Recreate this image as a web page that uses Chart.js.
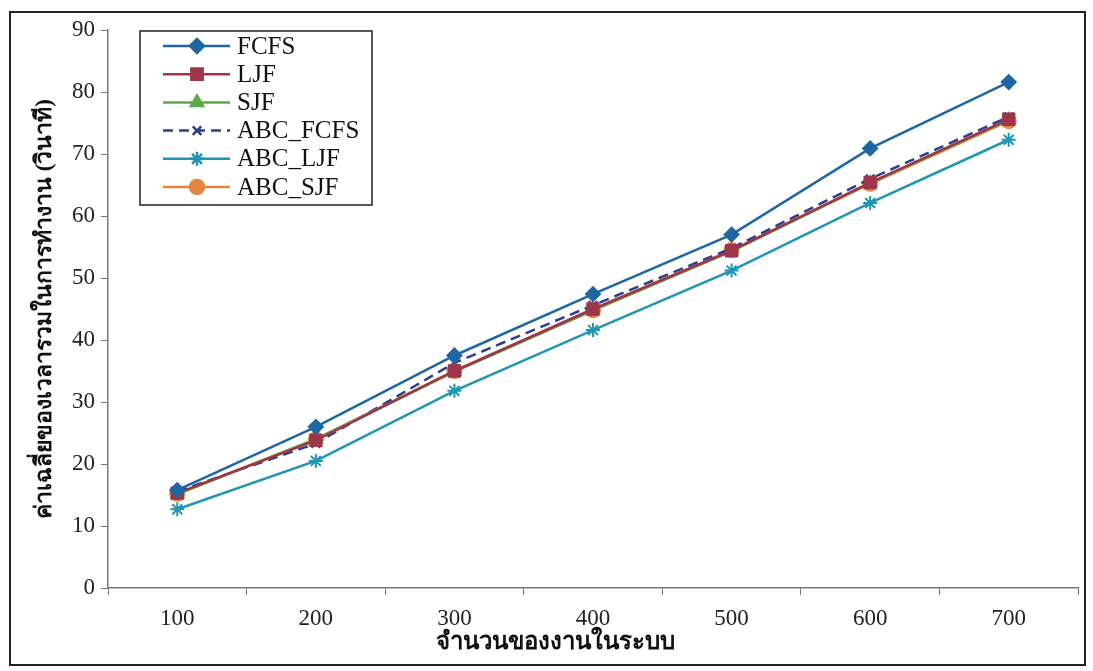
<!DOCTYPE html>
<html>
<head>
<meta charset="utf-8">
<script src="https://cdn.jsdelivr.net/npm/chart.js@4.4.0/dist/chart.umd.min.js"></script>
<style>
  body { margin: 0; background: #fff; }
  #wrap { width: 1093px; height: 671px; }
</style>
</head>
<body>
<div id="wrap"><canvas id="jobs" width="1093" height="671"></canvas></div>
<script>
var jobCounts = ['100', '200', '300', '400', '500', '600', '700'];

var fcfs    = [15.8, 26.0, 37.5, 47.4, 57.0, 70.9, 81.6];
var ljf     = [15.3, 23.8, 35.0, 45.0, 54.4, 65.4, 75.6];
var sjf     = [15.1, 24.0, 34.9, 44.8, 54.3, 65.3, 75.5];
var abcFcfs = [15.6, 23.3, 36.3, 45.6, 54.8, 66.0, 76.0];
var abcLjf  = [12.7, 20.5, 31.8, 41.6, 51.2, 62.1, 72.3];
var abcSjf  = [15.2, 24.0, 35.0, 44.8, 54.5, 65.2, 75.3];

var xTitle = 'จำนวนของงานในระบบ';
var yTitle = 'ค่าเฉลี่ยของเวลารวมในการทำงาน (วินาที)';

var serif = '"Liberation Serif", "Times New Roman", serif';

// frame round the whole figure + x title (sits left of the plot centre in the original)
var framePlugin = {
  id: 'frame',
  beforeDraw: function(chart) {
    var ctx = chart.ctx;
    ctx.save();
    ctx.fillStyle = '#fff';
    ctx.fillRect(0, 0, chart.width, chart.height);
    ctx.strokeStyle = '#222';
    ctx.lineWidth = 2;
    ctx.strokeRect(10, 12, 1075, 653);
    ctx.restore();
  },
  afterDraw: function(chart) {
    var ctx = chart.ctx;
    ctx.save();
    ctx.fillStyle = '#111';
    ctx.font = 'bold 24px ' + serif;
    ctx.textAlign = 'center';
    ctx.textBaseline = 'middle';
    ctx.fillText(xTitle, chart.width / 2 + 9, 643);
    ctx.restore();
  }
};

// legend box drawn inside the plot, top left
var boxLegend = {
  id: 'boxLegend',
  afterDraw: function(chart) {
    var ctx = chart.ctx;
    var area = chart.chartArea;
    var x0 = area.left + 32, y0 = area.top + 1;
    var w = 232, h = 174, rowH = 28.2;
    ctx.save();
    ctx.fillStyle = '#fff';
    ctx.fillRect(x0, y0, w, h);
    ctx.strokeStyle = '#222';
    ctx.lineWidth = 1.5;
    ctx.strokeRect(x0, y0, w, h);
    chart.data.datasets.forEach(function(ds, i) {
      var cy = y0 + 15 + i * rowH;
      ctx.strokeStyle = ds.borderColor;
      ctx.lineWidth = 2.5;
      ctx.setLineDash(ds.borderDash || []);
      ctx.beginPath();
      ctx.moveTo(x0 + 23, cy);
      ctx.lineTo(x0 + 90, cy);
      ctx.stroke();
      ctx.setLineDash([]);
      ctx.fillStyle = ds.pointBackgroundColor;
      ctx.strokeStyle = ds.pointBorderColor;
      Chart.helpers.drawPoint(ctx, {
        pointStyle: ds.pointStyle,
        radius: ds.pointRadius,
        rotation: 0,
        borderWidth: 2
      }, x0 + 57, cy);
      ctx.fillStyle = '#111';
      ctx.font = '25px ' + serif;
      ctx.textBaseline = 'middle';
      ctx.fillText(ds.label, x0 + 97, cy + 1);
    });
    ctx.restore();
  }
};

function series(label, data, color, style, radius, extra) {
  var ds = {
    label: label,
    data: data,
    borderColor: color,
    backgroundColor: color,
    pointBackgroundColor: color,
    pointBorderColor: color,
    pointStyle: style,
    pointRadius: radius,
    pointBorderWidth: 2,
    borderWidth: 2.5,
    tension: 0
  };
  for (var k in extra) ds[k] = extra[k];
  return ds;
}

var datasets = [
  series('FCFS', fcfs, '#1f67a3', 'rectRot', 7),
  series('LJF', ljf, '#9c3648', 'rect', 8),
  series('SJF', sjf, '#5ea84c', 'triangle', 7),
  series('ABC_FCFS', abcFcfs, '#2e3e8c', 'crossRot', 6, { borderDash: [10, 6] }),
  series('ABC_LJF', abcLjf, '#2196b3', 'star', 7),
  series('ABC_SJF', abcSjf, '#e3853c', 'circle', 7)
];

var ctx = document.getElementById('jobs').getContext('2d');
new Chart(ctx, {
  type: 'line',
  data: { labels: jobCounts, datasets: datasets },
  plugins: [framePlugin, boxLegend],
  options: {
    responsive: false,
    animation: false,
    layout: { padding: { left: 10, right: 15, top: 30, bottom: 0 } },
    plugins: {
      legend: { display: false },
      tooltip: { enabled: false }
    },
    scales: {
      x: {
        offset: true,
        grid: {
          offset: true,
          drawOnChartArea: false,
          tickLength: 7,
          color: '#777'
        },
        border: { color: '#777', width: 1.5 },
        ticks: { color: '#222', padding: 10, font: { family: serif, size: 23 } },
        afterFit: function(scale) { scale.height = 83; }
      },
      y: {
        min: 0,
        max: 90,
        ticks: { stepSize: 10, color: '#222', padding: 6, font: { family: serif, size: 23 } },
        grid: { drawOnChartArea: false, tickLength: 7, color: '#777' },
        border: { color: '#777', width: 1.5 },
        title: {
          display: true,
          text: yTitle,
          color: '#111',
          padding: { top: 21, bottom: 0 },
          font: { family: serif, size: 23, weight: 'bold' }
        },
        afterFit: function(scale) { scale.width = 98; }
      }
    }
  }
});
</script>
</body>
</html>
